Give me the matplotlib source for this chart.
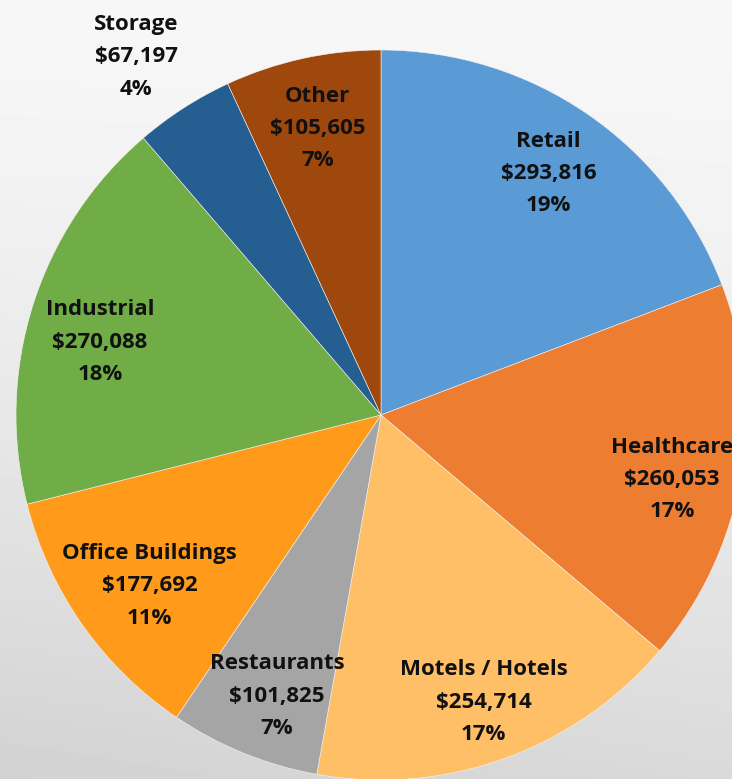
import numpy as np
import matplotlib.pyplot as plt

# data
categories = ["Retail", "Healthcare", "Motels / Hotels", "Restaurants",
              "Office Buildings", "Industrial", "Storage", "Other"]
values = [293816, 260053, 254714, 101825, 177692, 270088, 67197, 105605]
pct_labels = ["19%", "17%", "17%", "7%", "11%", "18%", "4%", "7%"]
colors = ["#5B9BD5", "#ED7D31", "#FFBF66", "#A5A5A5",
          "#FF9A1A", "#70AD47", "#255E91", "#9E480E"]
# label placement: radial fraction of radius, and clockwise shift (deg) from the slice middle
label_dist = [0.81, 0.816, 0.83, 0.816, 0.785, 0.797, 1.193, 0.81]
label_shift = [0.0, 2.5, 0.0, -1.7, -1.1, -2.7, -1.5, 0.0]

W, H = 732, 779
fig = plt.figure(figsize=(W / 100, H / 100), dpi=100)

# background gradient
bg = fig.add_axes([0, 0, 1, 1])
yy, xx = np.mgrid[0:1:200j, 0:1:200j]
shade = 0.968 - 0.115 * yy ** 1.5 - 0.03 * (1 - xx) * yy
bg.imshow(shade, cmap="gray", vmin=0, vmax=1, aspect="auto",
          extent=[0, 1, 1, 0], interpolation="bicubic")
bg.axis("off")

ax = fig.add_axes([0, 0, 1, 1])
ax.patch.set_visible(False)
cx, cy, r = 381, H - 415, 365
wedges, _ = ax.pie(values, colors=colors, startangle=90, counterclock=False,
                   center=(cx, cy), radius=r,
                   wedgeprops=dict(edgecolor="#f4f4f4", linewidth=0.4))

for w, name, v, p, d, s in zip(wedges, categories, values, pct_labels,
                               label_dist, label_shift):
    ang = np.deg2rad((w.theta1 + w.theta2) / 2 - s)
    x = cx + d * r * np.cos(ang)
    y = cy + d * r * np.sin(ang) - 2
    ax.text(x, y, f"{name}\n${v:,}\n{p}",
            ha="center", va="center", fontsize=16, fontweight="bold",
            family=["Open Sans", "DejaVu Sans"], color="#111111",
            linespacing=1.7)

ax.set_xlim(0, W)
ax.set_ylim(0, H)
ax.set_aspect("equal")
ax.axis("off")

fig.savefig("out.png", dpi=100)
